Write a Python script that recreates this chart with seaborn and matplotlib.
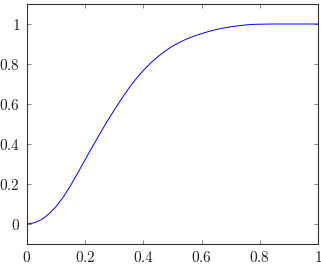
import matplotlib
matplotlib.use("Agg")
import matplotlib.pyplot as plt
import seaborn as sns
import pandas as pd

x_vals = [0.0, 0.025, 0.05, 0.075, 0.1, 0.125, 0.15, 0.175, 0.2, 0.225, 0.25, 0.275, 0.3,
          0.325, 0.35, 0.375, 0.4, 0.425, 0.45, 0.475, 0.5, 0.525, 0.55, 0.575, 0.6,
          0.625, 0.65, 0.675, 0.7, 0.725, 0.75, 0.775, 0.8, 0.85, 0.9, 0.95, 1.0]
y_vals = [0.0, 0.006, 0.022, 0.050, 0.087, 0.135, 0.193, 0.257, 0.322, 0.387, 0.450, 0.512, 0.570,
          0.626, 0.679, 0.726, 0.768, 0.805, 0.837, 0.865, 0.889, 0.909, 0.926, 0.940, 0.952,
          0.963, 0.972, 0.980, 0.986, 0.991, 0.995, 0.998, 0.999, 1.0, 1.0, 1.0, 1.0]
x_ticks = [0, 0.2, 0.4, 0.6, 0.8, 1]
x_tick_labels = ["0", "0.2", "0.4", "0.6", "0.8", "1"]
y_ticks = [0, 0.2, 0.4, 0.6, 0.8, 1]
y_tick_labels = ["0", "0.2", "0.4", "0.6", "0.8", "1"]

sns.set_theme(style="ticks")
plt.rcParams["mathtext.fontset"] = "cm"
plt.rcParams["font.family"] = ["DejaVu Serif"]

df = pd.DataFrame({"x": x_vals, "y": y_vals})

fig = plt.figure(figsize=(3.21, 2.67), dpi=100)
ax = fig.add_axes([27 / 321, 1 - 244 / 267, 291 / 321, 240 / 267])
sns.lineplot(data=df, x="x", y="y", ax=ax, color="#0000ff", linewidth=0.7)

ax.set_xlim(0, 1)
ax.set_ylim(-0.1, 1.1)
ax.set_xticks(x_ticks)
ax.set_xticklabels(["$" + t + "$" for t in x_tick_labels])
ax.set_yticks(y_ticks)
ax.set_yticklabels(["$" + t + "$" for t in y_tick_labels])
ax.set_xlabel("")
ax.set_ylabel("")
for s in ax.spines.values():
    s.set_visible(True)
    s.set_linewidth(0.8)
    s.set_color("#333333")
ax.tick_params(axis="both", direction="in", length=3, width=0.5, color="#555555",
               top=True, right=True, labelsize=11, labelcolor="#222222")
ax.tick_params(axis="x", pad=4)
ax.tick_params(axis="y", pad=5)

fig.savefig("out.png", dpi=100)
